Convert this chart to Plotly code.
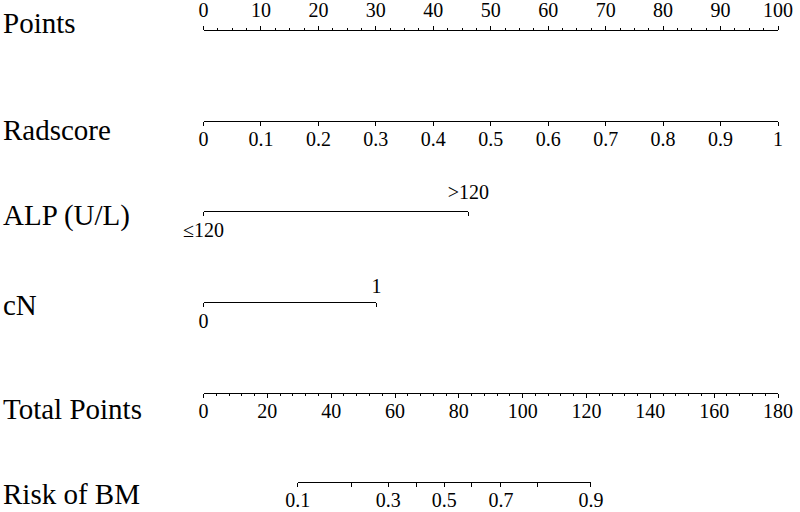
import plotly.graph_objects as go

# ---------------- data ----------------
row_labels = ["Points", "Radscore", "ALP (U/L)", "cN", "Total Points", "Risk of BM"]

points_ticks = [0, 10, 20, 30, 40, 50, 60, 70, 80, 90, 100]

radscore_ticks = [0, 0.1, 0.2, 0.3, 0.4, 0.5, 0.6, 0.7, 0.8, 0.9, 1]
radscore_labels = ["0", "0.1", "0.2", "0.3", "0.4", "0.5", "0.6", "0.7", "0.8", "0.9", "1"]

alp_levels = ["≤120", ">120"]
alp_points = [0, 46.1]

cn_levels = ["0", "1"]
cn_points = [0, 30.1]

total_ticks = [0, 20, 40, 60, 80, 100, 120, 140, 160, 180]

risk_values = [0.1, 0.2, 0.3, 0.4, 0.5, 0.6, 0.7, 0.8, 0.9]
risk_labels = ["0.1", "", "0.3", "", "0.5", "", "0.7", "", "0.9"]
risk_total_points = [29.5, 46.5, 57.9, 66.8, 75.4, 83.9, 93.2, 104.5, 121.4]

# ---------------- geometry / style ----------------
W, H = 800, 512
X0, X1 = 203.5 / W, 778.0 / W          # paper span of the 0-100 points scale
ROW_Y = [30, 121, 211, 302, 393, 482]   # pixel y of each axis line
LABEL_Y = [23, 130, 215, 305, 409, 494]
TICK_FONT = dict(family="Liberation Serif, Times New Roman, serif", size=20, color="black")
LABEL_FONT = dict(family="Liberation Serif, Times New Roman, serif", size=29, color="black")

def yfrac(py):
    return 1 - py / H

def pts_domain(p_lo, p_hi, pmax=100.0):
    return [X0 + (X1 - X0) * p_lo / pmax, X0 + (X1 - X0) * p_hi / pmax]

base = dict(anchor="free", showline=True, linecolor="black", linewidth=1,
            ticks="outside", tickcolor="black", tickwidth=1, ticklen=4,
            showgrid=False, zeroline=False, tickfont=TICK_FONT, automargin=False,
            fixedrange=True)

fig = go.Figure()
layout_axes = {}

def add_axis(name, trace_x, **kw):
    ax = dict(base)
    ax.update(kw)
    layout_axes[name.replace("x", "xaxis", 1)] = ax
    fig.add_trace(go.Scatter(x=trace_x, y=[0.5] * len(trace_x), xaxis=name, yaxis="y",
                             mode="markers", marker=dict(opacity=0), hoverinfo="skip",
                             showlegend=False, cliponaxis=False))

# Points (top scale)
add_axis("x", points_ticks, domain=pts_domain(0, 100), range=[0, 100],
         position=yfrac(ROW_Y[0]), side="top", tickvals=points_ticks,
         ticklabelstandoff=1,
         minor=dict(dtick=2.5, tick0=0, ticks="outside", ticklen=2, tickcolor="black"))

# Radscore
add_axis("x2", radscore_ticks, domain=pts_domain(0, 100), range=[0, 1],
         position=yfrac(ROW_Y[1]), side="bottom", tickvals=radscore_ticks,
         ticktext=radscore_labels, ticklabelstandoff=-4)

# ALP
add_axis("x3", alp_points, domain=pts_domain(alp_points[0], alp_points[1]),
         range=[alp_points[0], alp_points[1]], position=yfrac(ROW_Y[2]), side="bottom",
         tickvals=alp_points, ticktext=[alp_levels[0], ""], ticklabelstandoff=-3)
add_axis("x4", alp_points, domain=pts_domain(alp_points[0], alp_points[1]),
         range=[alp_points[0], alp_points[1]], position=yfrac(ROW_Y[2]), side="top",
         showline=False, ticks="", tickvals=alp_points, ticktext=["", alp_levels[1]],
         ticklabelstandoff=8)

# cN
add_axis("x5", cn_points, domain=pts_domain(cn_points[0], cn_points[1]),
         range=[cn_points[0], cn_points[1]], position=yfrac(ROW_Y[3]), side="bottom",
         tickvals=cn_points, ticktext=[cn_levels[0], ""], ticklabelstandoff=-3)
add_axis("x6", cn_points, domain=pts_domain(cn_points[0], cn_points[1]),
         range=[cn_points[0], cn_points[1]], position=yfrac(ROW_Y[3]), side="top",
         showline=False, ticks="", tickvals=cn_points, ticktext=["", cn_levels[1]],
         ticklabelstandoff=5)

# Total Points
add_axis("x7", total_ticks, domain=pts_domain(0, 180, 180), range=[0, 180],
         position=yfrac(ROW_Y[4]), side="bottom", tickvals=total_ticks,
         ticklabelstandoff=-4,
         minor=dict(dtick=4, tick0=0, ticks="outside", ticklen=2, tickcolor="black"))

# Risk of BM
add_axis("x8", risk_total_points,
         domain=pts_domain(risk_total_points[0], risk_total_points[-1], 180),
         range=[risk_total_points[0], risk_total_points[-1]], position=yfrac(ROW_Y[5]),
         side="bottom", tickvals=risk_total_points, ticktext=risk_labels,
         ticklabelstandoff=-4)

annotations = []
for lab, ly in zip(row_labels, LABEL_Y):
    annotations.append(dict(text=lab, xref="paper", yref="paper", x=1 / W, y=yfrac(ly),
                            xanchor="left", yanchor="middle", showarrow=False,
                            font=LABEL_FONT))

fig.update_layout(
    width=W, height=H, margin=dict(l=0, r=0, t=0, b=0),
    paper_bgcolor="white", plot_bgcolor="rgba(0,0,0,0)", showlegend=False,
    yaxis=dict(domain=[0, 1], range=[0, 1], visible=False, fixedrange=True),
    annotations=annotations,
    **layout_axes,
)

fig.write_html("out.html", config={"displayModeBar": False},
               post_script="document.body.style.margin='0';")
